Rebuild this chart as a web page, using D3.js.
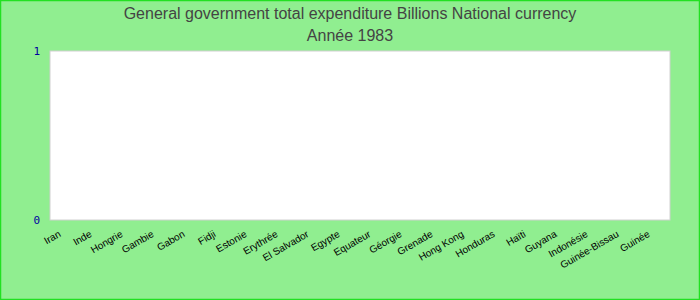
<!DOCTYPE html>
<html>
<head>
<meta charset="utf-8">
<script src="https://cdn.jsdelivr.net/npm/d3@7"></script>
<style>
  body { margin: 0; }
</style>
</head>
<body>
<div id="chart"></div>
<script>
const titleLines = ['General government total expenditure Billions National currency', 'Année 1983']
const countries = ['Iran', 'Inde', 'Hongrie', 'Gambie', 'Gabon', 'Fidji', 'Estonie', 'Erythrée',
  'El Salvador', 'Egypte', 'Equateur', 'Géorgie', 'Grenade', 'Hong Kong', 'Honduras', 'Haïti',
  'Guyana', 'Indonésie', 'Guinée-Bissau', 'Guinée']
// no values reported for 1983
const values = countries.map(() => 0)
const yTicks = [0, 1]

function draw() {
  let dimensions = {
    width: 700,
    height: 300,
    left: 50,
    right: 670,
    top: 51,
    bottom: 220,
  }

  const svg = d3.select('#chart')
    .append('svg')
    .attr('width', dimensions.width)
    .attr('height', dimensions.height)

  svg.append('rect')
    .attr('x', 0.5).attr('y', 0.5)
    .attr('width', dimensions.width - 1)
    .attr('height', dimensions.height - 1)
    .attr('fill', '#90ee90')
    .attr('stroke', '#22e022')
    .attr('stroke-width', 1.5)

  // Title
  svg.append('g')
    .selectAll('text')
    .data(titleLines)
    .join('text')
    .attr('x', 350)
    .attr('y', (d, i) => 19 + i * 22)
    .attr('text-anchor', 'middle')
    .attr('font-family', 'Liberation Sans, Arial, sans-serif')
    .attr('font-size', 16)
    .attr('fill', '#444')
    .text(d => d)

  // Scales
  const xScale = d3.scaleBand()
    .domain(countries)
    .range([dimensions.left, dimensions.right])

  const yScale = d3.scaleLinear()
    .domain([0, 1])
    .range([dimensions.bottom, dimensions.top])

  // Plot area
  svg.append('rect')
    .attr('x', dimensions.left)
    .attr('y', dimensions.top)
    .attr('width', dimensions.right - dimensions.left)
    .attr('height', dimensions.bottom - dimensions.top)
    .attr('fill', '#fff')
    .attr('stroke', '#d0d0d0')
    .attr('stroke-width', 1)

  // Bars
  svg.append('g')
    .selectAll('rect')
    .data(values)
    .join('rect')
    .attr('x', (d, i) => xScale(countries[i]) + 4)
    .attr('y', d => yScale(d))
    .attr('width', xScale.bandwidth() - 8)
    .attr('height', d => yScale(0) - yScale(d))
    .attr('fill', '#4472c4')

  // Y axis
  const yAxis = d3.axisLeft(yScale)
    .tickValues(yTicks)
    .tickFormat(d3.format('d'))
    .tickSize(0)
    .tickPadding(10)

  const yAxisGroup = svg.append('g')
    .attr('transform', `translate(${dimensions.left}, 0)`)
    .call(yAxis)
  yAxisGroup.select('.domain').remove()
  yAxisGroup.selectAll('text')
    .attr('font-family', 'DejaVu Sans Mono, monospace')
    .attr('font-size', 11)
    .attr('fill', '#0000a0')

  // X axis
  const xAxis = d3.axisBottom(xScale)
    .tickSize(0)
    .tickPadding(0)

  const xAxisGroup = svg.append('g')
    .attr('transform', `translate(0, ${dimensions.bottom})`)
    .call(xAxis)
  xAxisGroup.select('.domain').remove()
  xAxisGroup.selectAll('text')
    .attr('font-family', 'Liberation Sans, Arial, sans-serif')
    .attr('font-size', 10)
    .attr('fill', '#000')
    .attr('text-anchor', 'end')
    .attr('dy', 0)
    .attr('y', 0)
    .attr('transform', 'translate(-4, 16) rotate(-30)')
}

draw()
</script>
</body>
</html>
